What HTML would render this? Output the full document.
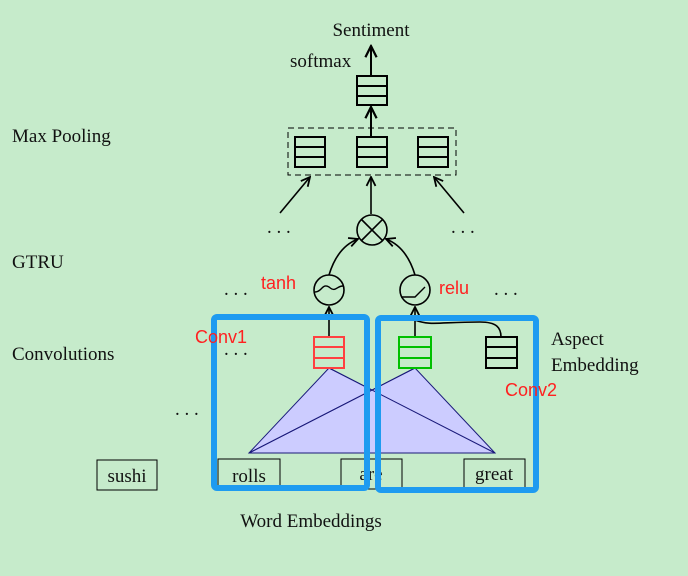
<!DOCTYPE html>
<html><head><meta charset="utf-8"><style>
html,body{margin:0;padding:0;background:#c6ebcb;}
svg{display:block}
.s{font-family:"Liberation Serif",serif;font-size:19px;fill:#111}
.r{font-family:"Liberation Sans",sans-serif;font-size:18px;fill:#ff2020}
</style></head><body>
<svg width="688" height="576" viewBox="0 0 688 576" xmlns="http://www.w3.org/2000/svg">
<defs>
<marker id="a" viewBox="0 0 10 10" refX="9" refY="5" markerWidth="7" markerHeight="7" orient="auto"><path d="M1,1 L9,5 L1,9" fill="none" stroke="#000" stroke-width="1.6"/></marker>
</defs>
<rect width="688" height="576" fill="#c6ebcb"/>
<g stroke="#000" fill="none" stroke-width="2">
<!-- top -->
<line x1="371" y1="76" x2="371" y2="46" marker-end="url(#a)"/>
<rect x="357" y="76" width="30" height="29"/><line x1="357" y1="86" x2="387" y2="86"/><line x1="357" y1="96" x2="387" y2="96"/>
<line x1="371" y1="137" x2="371" y2="107" marker-end="url(#a)"/>
<rect x="288" y="128" width="168" height="47" stroke-width="1" stroke-dasharray="6,4"/>
<rect x="295" y="137" width="30" height="30"/><line x1="295" y1="147" x2="325" y2="147"/><line x1="295" y1="157" x2="325" y2="157"/>
<rect x="357" y="137" width="30" height="30"/><line x1="357" y1="147" x2="387" y2="147"/><line x1="357" y1="157" x2="387" y2="157"/>
<rect x="418" y="137" width="30" height="30"/><line x1="418" y1="147" x2="448" y2="147"/><line x1="418" y1="157" x2="448" y2="157"/>
<line x1="371" y1="214" x2="371" y2="177" marker-end="url(#a)" stroke-width="1.6"/>
<line x1="280" y1="213" x2="310" y2="177" marker-end="url(#a)" stroke-width="1.6"/>
<line x1="464" y1="213" x2="434" y2="177" marker-end="url(#a)" stroke-width="1.6"/>
<!-- otimes -->
<circle cx="372" cy="230" r="15" stroke-width="1.6"/>
<line x1="361" y1="219" x2="383" y2="241" stroke-width="1.6"/><line x1="383" y1="219" x2="361" y2="241" stroke-width="1.6"/>
<!-- activations -->
<circle cx="329" cy="290" r="15" stroke-width="1.6"/>
<path d="M315,292 C322,292 322,283 329,287 C336,293 336,286 343,286" stroke-width="1.4"/>
<circle cx="415" cy="290" r="15" stroke-width="1.6"/>
<path d="M401,297 L415,297 L425,287" stroke-width="1.4"/>
<path d="M329,275 C335,255 345,244 358,239" marker-end="url(#a)" stroke-width="1.6"/>
<path d="M415,275 C409,255 399,244 386,239" marker-end="url(#a)" stroke-width="1.6"/>
<line x1="329" y1="337" x2="329" y2="307" marker-end="url(#a)" stroke-width="1.6"/>
<line x1="415" y1="337" x2="415" y2="307" marker-end="url(#a)" stroke-width="1.6"/>
<path d="M415,320 C430,326 440,322 480,322 C497,322 501,328 501,337" stroke-width="1.6"/>
</g>
<!-- triangles -->
<polygon points="329,368 249,453 495,453" fill="#ccccff" stroke="#1a1a7a" stroke-width="1"/>
<polygon points="415,368 249,453 495,453" fill="#ccccff" stroke="#1a1a7a" stroke-width="1"/>
<line x1="329" y1="368" x2="495" y2="453" stroke="#1a1a7a" stroke-width="1"/>
<line x1="415" y1="368" x2="249" y2="453" stroke="#1a1a7a" stroke-width="1"/>
<g fill="none" stroke-width="2">
<g stroke="#ff4040"><rect x="314" y="337" width="30" height="31"/><line x1="314" y1="347" x2="344" y2="347"/><line x1="314" y1="358" x2="344" y2="358"/></g>
<g stroke="#00c000"><rect x="399" y="337" width="32" height="31"/><line x1="399" y1="347" x2="431" y2="347"/><line x1="399" y1="358" x2="431" y2="358"/></g>
<g stroke="#000"><rect x="486" y="337" width="31" height="31"/><line x1="486" y1="347" x2="517" y2="347"/><line x1="486" y1="358" x2="517" y2="358"/></g>
</g>
<!-- word boxes -->
<g fill="none" stroke="#000" stroke-width="1">
<rect x="97" y="460" width="60" height="30"/><rect x="218" y="459" width="62" height="30"/><rect x="341" y="459" width="61" height="30"/><rect x="464" y="459" width="61" height="30"/>
</g>
<text class="s" x="127" y="482" text-anchor="middle">sushi</text>
<text class="s" x="249" y="482" text-anchor="middle">rolls</text>
<text class="s" x="371" y="480" text-anchor="middle">are</text>
<text class="s" x="494" y="480" text-anchor="middle">great</text>
<!-- blue boxes -->
<rect x="214" y="317" width="153" height="171" rx="3" fill="none" stroke="#1e9bf0" stroke-width="6"/>
<rect x="378" y="318" width="158" height="172" rx="3" fill="none" stroke="#1e9bf0" stroke-width="6"/>
<!-- texts -->
<text class="s" x="371" y="36" text-anchor="middle">Sentiment</text>
<text class="s" x="290" y="67">softmax</text>
<text class="s" x="12" y="142">Max Pooling</text>
<text class="s" x="12" y="268">GTRU</text>
<text class="s" x="12" y="360">Convolutions</text>
<text class="s" x="551" y="345">Aspect</text>
<text class="s" x="551" y="371">Embedding</text>
<text class="s" x="311" y="527" text-anchor="middle">Word Embeddings</text>
<g class="s">
<text x="267" y="233">. . .</text><text x="451" y="233">. . .</text>
<text x="224" y="295">. . .</text><text x="494" y="295">. . .</text>
<text x="224" y="355">. . .</text><text x="175" y="415">. . .</text>
</g>
<text class="r" x="261" y="289">tanh</text>
<text class="r" x="439" y="294">relu</text>
<text class="r" x="195" y="343">Conv1</text>
<text class="r" x="505" y="396">Conv2</text>
</svg>
</body></html>
